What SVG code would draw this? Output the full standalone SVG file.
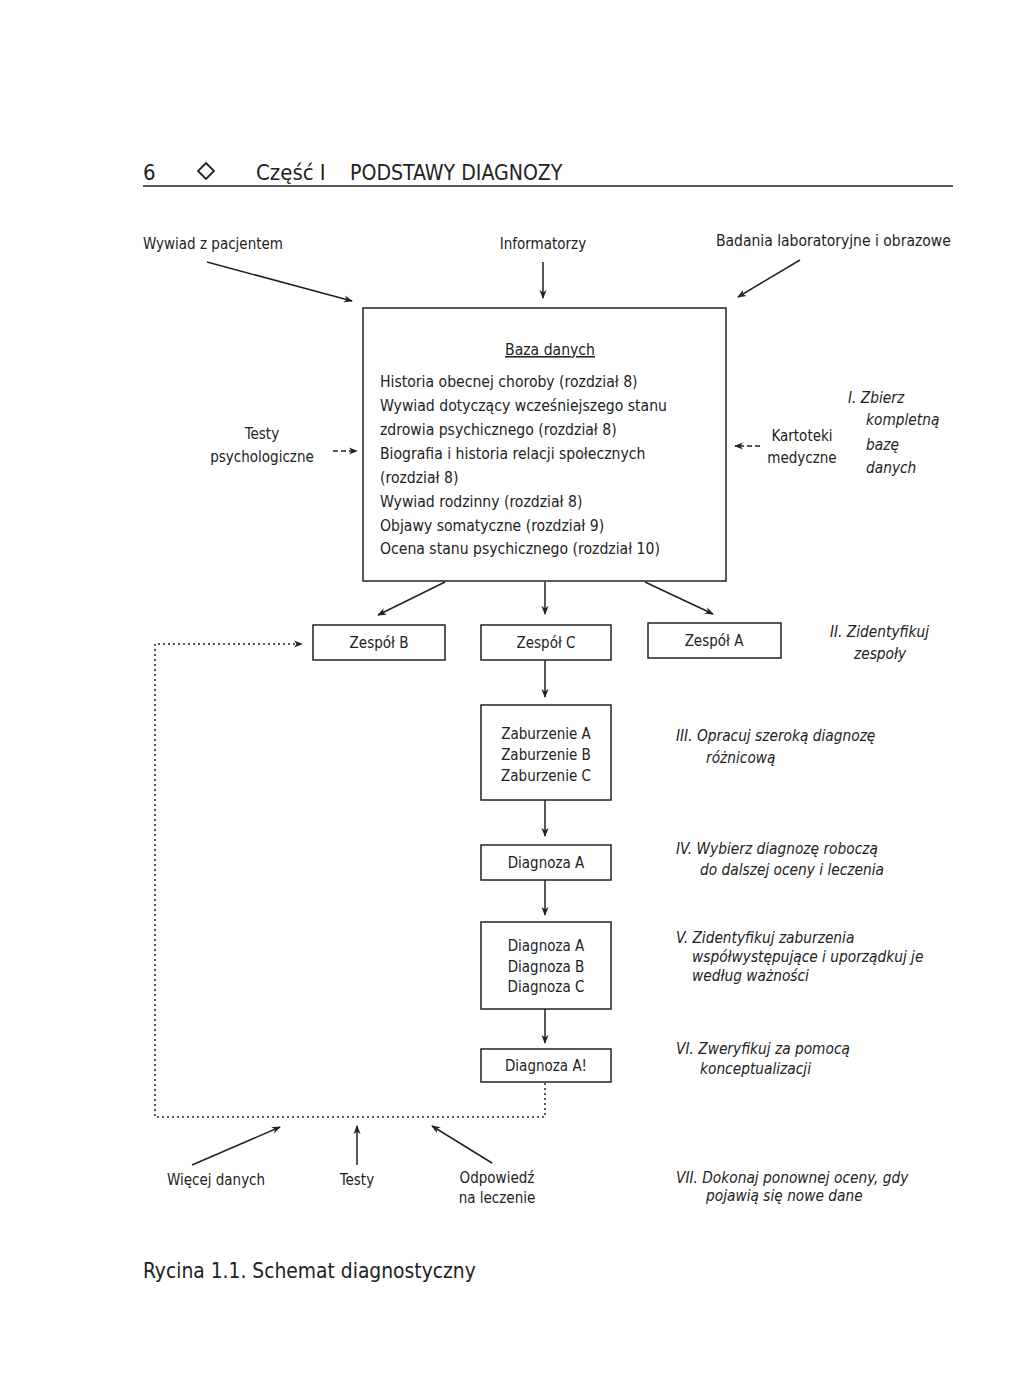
<svg xmlns="http://www.w3.org/2000/svg" width="1016" height="1376" viewBox="0 0 1016 1376">
<defs>
<marker id="ah" viewBox="0 0 10 10" refX="9" refY="5" markerWidth="9" markerHeight="9" orient="auto" markerUnits="userSpaceOnUse">
<path d="M0,1 L10,5 L0,9 L3,5 Z" fill="#222"/>
</marker>
<style>
text{font-family:"DejaVu Sans Condensed","Liberation Sans Narrow","Liberation Sans",sans-serif;fill:#222;}
.t{font-size:15px;}
.b{font-size:15.6px;}
.i{font-size:15.3px;font-style:italic;}
.c{text-anchor:middle;}
.box{fill:#fff;stroke:#222;stroke-width:1.5;}
.ln{stroke:#222;stroke-width:1.5;fill:none;}
.dot{stroke:#222;stroke-width:1.5;fill:none;stroke-dasharray:2 3;}
</style>
</defs>
<rect width="1016" height="1376" fill="#fff"/>

<g id="header">
<text x="143" y="180" style="font-size:22px">6</text>
<path d="M206,163 L214,171 L206,179 L198,171 Z" fill="none" stroke="#222" stroke-width="1.8"/>
<text x="256" y="180" style="font-size:22px">Część I</text>
<text x="350" y="180" style="font-size:21.1px">PODSTAWY DIAGNOZY</text>
<line x1="143" y1="186" x2="953" y2="186" stroke="#222" stroke-width="1.5"/>
</g>

<g id="src-wywiad"><text class="t" x="143" y="249">Wywiad z pacjentem</text></g>
<g id="src-informatorzy"><text class="t c" x="543" y="249">Informatorzy</text></g>
<g id="src-badania"><text class="t" x="716" y="246" style="font-size:15.5px">Badania laboratoryjne i obrazowe</text></g>
<g id="src-testy"><text class="t c" x="262" y="439">Testy</text><text class="t c" x="262" y="462">psychologiczne</text></g>
<g id="src-kartoteki"><text class="t c" x="802" y="441">Kartoteki</text><text class="t c" x="802" y="463">medyczne</text></g>

<g id="baza">
<rect class="box" x="363" y="308" width="363" height="273"/>
<text class="b c" x="550" y="355" text-decoration="underline">Baza danych</text>
<text class="b" x="380" y="387">Historia obecnej choroby (rozdział 8)</text>
<text class="b" x="380" y="411">Wywiad dotyczący wcześniejszego stanu</text>
<text class="b" x="380" y="435">zdrowia psychicznego (rozdział 8)</text>
<text class="b" x="380" y="459">Biografia i historia relacji społecznych</text>
<text class="b" x="380" y="483">(rozdział 8)</text>
<text class="b" x="380" y="507">Wywiad rodzinny (rozdział 8)</text>
<text class="b" x="380" y="531">Objawy somatyczne (rozdział 9)</text>
<text class="b" x="380" y="554">Ocena stanu psychicznego (rozdział 10)</text>
</g>

<g id="zespol-b"><rect class="box" x="313" y="625" width="132" height="35"/><text class="t c" x="379" y="648">Zespół B</text></g>
<g id="zespol-c"><rect class="box" x="481" y="625" width="130" height="35"/><text class="t c" x="546" y="648">Zespół C</text></g>
<g id="zespol-a"><rect class="box" x="648" y="623" width="133" height="35"/><text class="t c" x="714" y="646">Zespół A</text></g>

<g id="zaburzenia"><rect class="box" x="481" y="705" width="130" height="95"/>
<text class="t c" x="546" y="739">Zaburzenie A</text><text class="t c" x="546" y="760">Zaburzenie B</text><text class="t c" x="546" y="781">Zaburzenie C</text></g>
<g id="diagnoza-a"><rect class="box" x="481" y="845" width="130" height="35"/><text class="t c" x="546" y="868">Diagnoza A</text></g>
<g id="diagnozy"><rect class="box" x="481" y="922" width="130" height="87"/>
<text class="t c" x="546" y="951">Diagnoza A</text><text class="t c" x="546" y="972">Diagnoza B</text><text class="t c" x="546" y="992">Diagnoza C</text></g>
<g id="diagnoza-a-final"><rect class="box" x="481" y="1049" width="130" height="33"/><text class="t c" x="546" y="1071">Diagnoza A!</text></g>

<g id="bottom-sources">
<text class="t c" x="216" y="1185">Więcej danych</text>
<text class="t c" x="357" y="1185">Testy</text>
<text class="t c" x="497" y="1183">Odpowiedź</text>
<text class="t c" x="497" y="1203">na leczenie</text>
</g>

<g id="steps">
<text class="i" x="848" y="403">I. Zbierz</text>
<text class="i" x="866" y="425">kompletną</text>
<text class="i" x="866" y="450">bazę</text>
<text class="i" x="866" y="473">danych</text>
<text class="i" x="830" y="637">II. Zidentyfikuj</text>
<text class="i c" x="880" y="659">zespoły</text>
<text class="i" x="676" y="741">III. Opracuj szeroką diagnozę</text>
<text class="i" x="706" y="763">różnicową</text>
<text class="i" x="676" y="854">IV. Wybierz diagnozę roboczą</text>
<text class="i" x="700" y="875">do dalszej oceny i leczenia</text>
<text class="i" x="676" y="943">V. Zidentyfikuj zaburzenia</text>
<text class="i" x="692" y="962">współwystępujące i uporządkuj je</text>
<text class="i" x="692" y="981">według ważności</text>
<text class="i" x="676" y="1054">VI. Zweryfikuj za pomocą</text>
<text class="i" x="700" y="1074">konceptualizacji</text>
<text class="i" x="676" y="1183">VII. Dokonaj ponownej oceny, gdy</text>
<text class="i" x="706" y="1201">pojawią się nowe dane</text>
</g>

<g id="connectors">
<line class="ln" x1="207" y1="262" x2="352" y2="301" marker-end="url(#ah)"/>
<line class="ln" x1="543" y1="262" x2="543" y2="298" marker-end="url(#ah)"/>
<line class="ln" x1="800" y1="260" x2="738" y2="297" marker-end="url(#ah)"/>
<line class="ln" x1="333" y1="451" x2="357" y2="451" stroke-dasharray="5 3" marker-end="url(#ah)"/>
<line class="ln" x1="760" y1="446" x2="735" y2="446" stroke-dasharray="5 3" marker-end="url(#ah)"/>
<line class="ln" x1="445" y1="582" x2="378" y2="615" marker-end="url(#ah)"/>
<line class="ln" x1="545" y1="582" x2="545" y2="614" marker-end="url(#ah)"/>
<line class="ln" x1="645" y1="582" x2="713" y2="614" marker-end="url(#ah)"/>
<line class="ln" x1="545" y1="660" x2="545" y2="697" marker-end="url(#ah)"/>
<line class="ln" x1="545" y1="800" x2="545" y2="836" marker-end="url(#ah)"/>
<line class="ln" x1="545" y1="880" x2="545" y2="915" marker-end="url(#ah)"/>
<line class="ln" x1="545" y1="1009" x2="545" y2="1043" marker-end="url(#ah)"/>
<path class="dot" d="M545,1083 L545,1117 L155,1117 L155,644 L302,644" marker-end="url(#ah)"/>
<line class="ln" x1="192" y1="1165" x2="280" y2="1127" marker-end="url(#ah)"/>
<line class="ln" x1="357" y1="1165" x2="357" y2="1126" marker-end="url(#ah)"/>
<line class="ln" x1="492" y1="1163" x2="432" y2="1126" marker-end="url(#ah)"/>
</g>

<g id="caption"><text x="143" y="1278" style="font-size:20.8px">Rycina 1.1. Schemat diagnostyczny</text></g>
</svg>
